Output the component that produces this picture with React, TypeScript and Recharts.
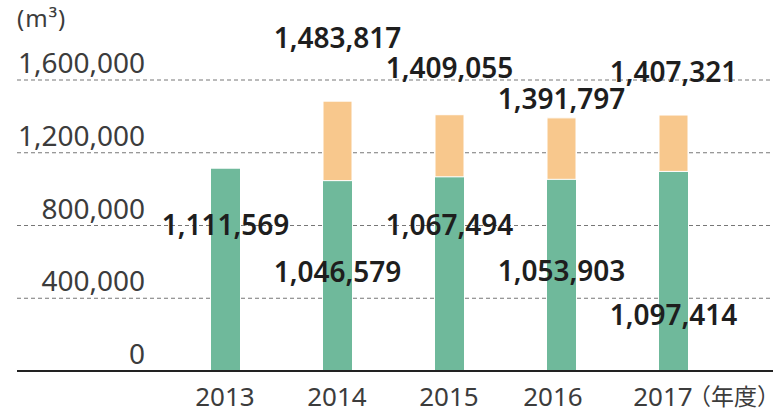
import { BarChart, Bar, XAxis, YAxis, CartesianGrid, LabelList } from 'recharts';

const years = ['2013', '2014', '2015', '2016', '2017'];
const baseValues = [1111569, 1046579, 1067494, 1053903, 1097414];
const totalValues = [1111569, 1483817, 1409055, 1391797, 1407321];
const yTicks = [0, 400000, 800000, 1200000, 1600000];

// label nudges, in px from the top of each segment, to follow the original layout
const baseLabelDy = [66, 101, 58, 102, 154];
const totalLabelDy = [0, -53, -37, -9, -33];
const tickDx = [0, 0, 0, -8, -10];

const data = years.map((year, i) => ({
  year,
  base: baseValues[i],
  extra: totalValues[i] - baseValues[i],
}));

const FONT = '"Noto Sans", "Noto Sans CJK JP", sans-serif';
const fmt = (v: number) => v.toLocaleString('en-US');

const YTick = ({ y, payload }: any) => (
  <text x={145} y={y - 7} textAnchor="end" fontSize={28} fill="#3c3c3c" fontFamily={FONT}>
    {fmt(payload.value)}
  </text>
);

const XTick = ({ x, y, payload, index }: any) => (
  <g>
    <text x={x + tickDx[index]} y={y + 33} textAnchor="middle" fontSize={26} fill="#3c3c3c" fontFamily={FONT}>
      {payload.value}
    </text>
    {index === years.length - 1 && (
      <text x={x + 15} y={y + 32} fontSize={23} fill="#3c3c3c" fontFamily='"Noto Sans CJK JP", sans-serif'>
        （年度）
      </text>
    )}
  </g>
);

// find the category by the segment's own value (zero-height segments get dropped from the label list)
const makeLabel = (key: 'base' | 'extra', values: number[], dys: number[]) => (props: any) => {
  const vb = props.viewBox ?? {};
  const x = Number(props.x ?? vb.x);
  const y = Number(props.y ?? vb.y);
  const w = Number(props.width ?? vb.width);
  const i = data.findIndex((d) => d[key] === Number(props.value));
  if (i < 0 || !data[i][key]) return null;
  return (
    <text
      x={x + w / 2}
      y={y + dys[i]}
      textAnchor="middle"
      fontSize={28}
      fontWeight={600}
      fill="#1e1e1e"
      fontFamily={FONT}
    >
      {fmt(values[i])}
    </text>
  );
};

export default function App() {
  return (
    <div style={{ position: 'absolute', left: 0, top: 0, background: '#fff' }}>
      <BarChart width={779} height={417} data={data} margin={{ top: 80, right: 6, bottom: 6, left: 0 }}>
        <text x={17} y={27} fontSize={24} letterSpacing={1} fill="#3c3c3c" fontFamily={FONT}>
          (m³)
        </text>
        <CartesianGrid vertical={false} stroke="#777" strokeDasharray="4 3" />
        <XAxis
          dataKey="year"
          height={40}
          padding={{ left: 152, right: 44 }}
          axisLine={{ stroke: '#222', strokeWidth: 2 }}
          tickLine={false}
          tickSize={0}
          tick={XTick}
          interval={0}
        />
        <YAxis
          width={17}
          domain={[0, 1600000]}
          ticks={yTicks}
          interval={0}
          axisLine={false}
          tickLine={false}
          tick={YTick}
        />
        <Bar dataKey="base" stackId="a" fill="#6fb99b" barSize={29} isAnimationActive={false}>
          <LabelList dataKey="base" content={makeLabel('base', baseValues, baseLabelDy)} />
        </Bar>
        <Bar dataKey="extra" stackId="a" fill="#f8c88d" barSize={29} stroke="#fff" strokeWidth={1} isAnimationActive={false}>
          <LabelList dataKey="extra" content={makeLabel('extra', totalValues, totalLabelDy)} />
        </Bar>
      </BarChart>
    </div>
  );
}
